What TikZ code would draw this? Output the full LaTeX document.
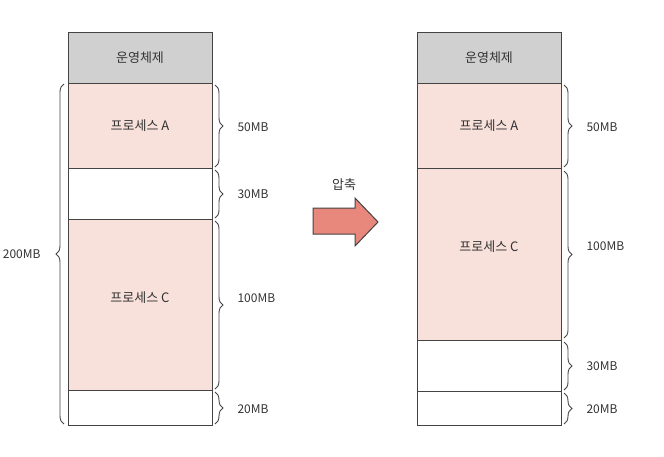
\documentclass[tikz,border=0pt]{standalone}
\usepackage{fontspec}
\setmainfont{Noto Sans CJK KR}
\usetikzlibrary{decorations.pathreplacing}
\definecolor{osgray}{HTML}{D0D0D0}
\definecolor{procpink}{HTML}{F8E0DB}
\definecolor{arrowred}{HTML}{E8877B}
\definecolor{linegray}{HTML}{444444}
\tikzset{
  blk/.style={draw=linegray, line width=1pt},
  brc/.style={draw=linegray, line width=0.9pt, decorate, decoration={brace, amplitude=8pt}},
  lbl/.style={font=\fontsize{13}{15}\selectfont, text=black!80},
  sizelbl/.style={font=\fontsize{12}{14}\selectfont, text=black!80, anchor=west},
}
\begin{document}
\begin{tikzpicture}[x=1pt,y=-1pt]
\useasboundingbox (0,0) rectangle (664,456);
% left memory
\filldraw[blk, fill=osgray] (68,32) rectangle (212,83);
\filldraw[blk, fill=procpink] (68,83) rectangle (212,168);
\filldraw[blk, fill=white] (68,168) rectangle (212,219);
\filldraw[blk, fill=procpink] (68,219) rectangle (212,390);
\filldraw[blk, fill=white] (68,390) rectangle (212,425);
\node[lbl] (los) at (140,57.5) {운영체제};
\node[lbl] (lpa) at (140,126) {프로세스 A};
\node[lbl] (lpc) at (140,298) {프로세스 C};
% left braces
\draw[brc] (215,85) -- (215,167);
\node[sizelbl] (t1) at (234,127) {50MB};
\draw[brc] (215,170) -- (215,218);
\node[sizelbl] (t2) at (234,194) {30MB};
\draw[brc] (215,221) -- (215,389);
\node[sizelbl] (t3) at (234,298) {100MB};
\draw[brc] (215,392) -- (215,424);
\node[sizelbl] (t4) at (234,409) {20MB};
\draw[brc] (64,424) -- (64,84);
\node[sizelbl, anchor=east] (t5) at (44,254) {200MB};
% arrow
\filldraw[draw=linegray, line width=1pt, fill=arrowred]
  (313,208) -- (355,208) -- (355,198) -- (378,222) -- (355,246) -- (355,234) -- (313,234) -- cycle;
\node[lbl] (cmp) at (344,185) {압축};
% right memory
\filldraw[blk, fill=osgray] (417,32) rectangle (561,83);
\filldraw[blk, fill=procpink] (417,83) rectangle (561,168);
\filldraw[blk, fill=procpink] (417,168) rectangle (561,340);
\filldraw[blk, fill=white] (417,340) rectangle (561,391);
\filldraw[blk, fill=white] (417,391) rectangle (561,425);
\node[lbl] (ros) at (489,57.5) {운영체제};
\node[lbl] (rpa) at (489,126) {프로세스 A};
\node[lbl] (rpc) at (489,247) {프로세스 C};
\draw[brc] (564,85) -- (564,167);
\node[sizelbl] (r1) at (583,127) {50MB};
\draw[brc] (564,171) -- (564,338);
\node[sizelbl] (r2) at (583,246) {100MB};
\draw[brc] (564,342) -- (564,390);
\node[sizelbl] (r3) at (583,366) {30MB};
\draw[brc] (564,393) -- (564,424);
\node[sizelbl] (r4) at (583,409) {20MB};
\end{tikzpicture}
\end{document}
